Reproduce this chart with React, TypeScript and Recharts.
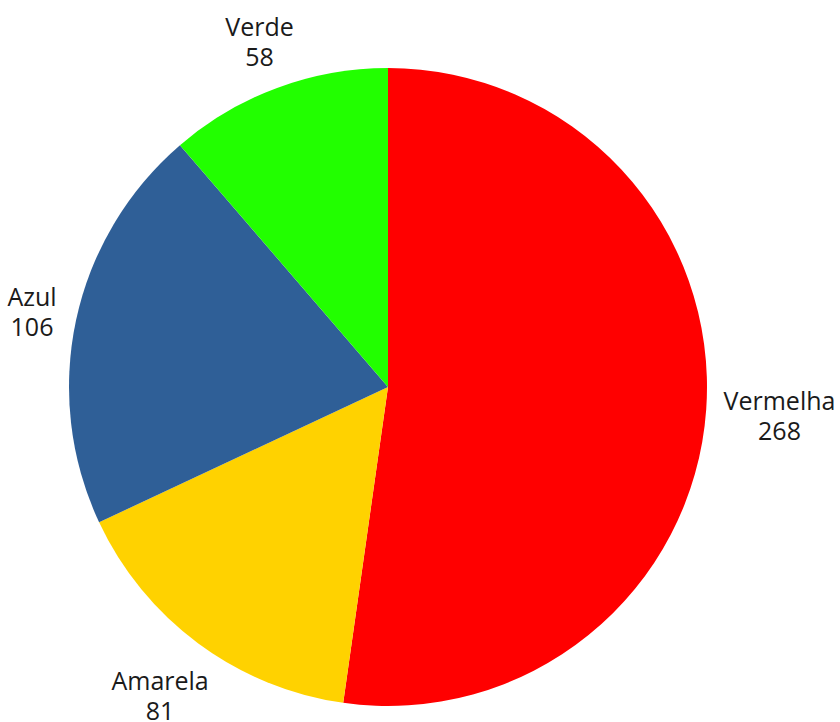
import { PieChart, Pie, Cell } from 'recharts';

const NAMES = ['Vermelha', 'Amarela', 'Azul', 'Verde'];
const VALUES = [268, 81, 106, 58];
const COLORS = ['#ff0000', '#ffd200', '#2f5f97', '#22ff00'];

const data = NAMES.map((name, i) => ({ name, value: VALUES[i] }));

const RADIAN = Math.PI / 180;
const FONT = "25px 'Open Sans'";

let ctx: CanvasRenderingContext2D | null = null;
function textWidth(t: string) {
  if (!ctx) ctx = document.createElement('canvas').getContext('2d');
  if (!ctx) return t.length * 14;
  ctx.font = FONT;
  return ctx.measureText(t).width;
}

function renderLabel(props: any) {
  const { cx, cy, midAngle, outerRadius, name, value } = props;
  const c = Math.cos(-midAngle * RADIAN);
  const s = Math.sin(-midAngle * RADIAN);
  const halfW = Math.max(textWidth(name), textWidth(String(value))) / 2;
  const halfH = 24;
  const d = outerRadius + 16 + Math.abs(halfW * c) + Math.abs(halfH * s);
  const bx = cx + d * c;
  const by = cy + d * s;
  return (
    <text x={bx} y={by} textAnchor="middle" dominantBaseline="central" fill="#1a1a1a" fontSize={25} fontFamily="'Open Sans', sans-serif">
      <tspan x={bx} y={by - 15}>{name}</tspan>
      <tspan x={bx} y={by + 15}>{value}</tspan>
    </text>
  );
}

export default function App() {
  return (
    <div style={{ position: 'fixed', left: 0, top: 0, width: 840, height: 722, background: '#fff' }}>
      <PieChart width={840} height={722} margin={{ top: 0, right: 0, bottom: 0, left: 0 }}>
        <Pie
          data={data}
          dataKey="value"
          nameKey="name"
          cx={388}
          cy={387}
          outerRadius={319}
          startAngle={90}
          endAngle={-270}
          stroke="none"
          label={renderLabel}
          labelLine={false}
          isAnimationActive={false}
        >
          {data.map((d, i) => (
            <Cell key={d.name} fill={COLORS[i]} />
          ))}
        </Pie>
      </PieChart>
    </div>
  );
}
